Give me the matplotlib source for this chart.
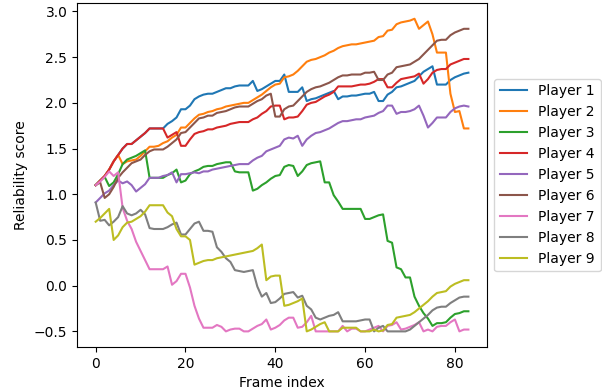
import numpy as np
import matplotlib
matplotlib.use('Agg')
import matplotlib.pyplot as plt

# reliability score per frame (frames 0..83)
player_1 = [1.10, 1.15, 1.20, 1.27, 1.36, 1.43, 1.50, 1.55, 1.55, 1.59,
            1.63, 1.67, 1.72, 1.72, 1.72, 1.72, 1.77, 1.80, 1.84, 1.93,
            1.93, 1.97, 2.04, 2.07, 2.09, 2.10, 2.10, 2.12, 2.14, 2.16,
            2.16, 2.18, 2.19, 2.19, 2.19, 2.24, 2.13, 2.15, 2.18, 2.21,
            2.24, 2.24, 2.31, 2.12, 2.12, 2.12, 2.17, 2.02, 2.04, 2.05,
            2.07, 2.09, 2.11, 2.13, 2.04, 2.07, 2.07, 2.08, 2.08, 2.09,
            2.10, 2.10, 2.12, 2.02, 2.02, 2.09, 2.12, 2.17, 2.18, 2.20,
            2.22, 2.24, 2.29, 2.34, 2.37, 2.40, 2.20, 2.20, 2.20, 2.25,
            2.28, 2.30, 2.32, 2.33]
player_2 = [1.10, 1.15, 1.20, 1.27, 1.36, 1.43, 1.33, 1.36, 1.37, 1.38,
            1.42, 1.47, 1.52, 1.52, 1.53, 1.56, 1.58, 1.62, 1.65, 1.73,
            1.73, 1.78, 1.83, 1.87, 1.88, 1.90, 1.91, 1.93, 1.94, 1.96,
            1.97, 1.98, 1.99, 2.00, 2.00, 2.03, 2.06, 2.09, 2.13, 2.17,
            2.20, 2.21, 2.28, 2.29, 2.31, 2.35, 2.40, 2.45, 2.47, 2.48,
            2.50, 2.52, 2.55, 2.57, 2.60, 2.62, 2.63, 2.64, 2.64, 2.65,
            2.66, 2.67, 2.68, 2.72, 2.73, 2.79, 2.80, 2.86, 2.88, 2.89,
            2.90, 2.92, 2.81, 2.85, 2.89, 2.75, 2.55, 2.55, 2.55, 2.10,
            1.90, 1.91, 1.72, 1.72]
player_3 = [1.10, 1.15, 1.19, 1.09, 1.13, 1.22, 1.33, 1.38, 1.40, 1.42,
            1.45, 1.48, 1.18, 1.18, 1.18, 1.18, 1.21, 1.23, 1.27, 1.13,
            1.15, 1.22, 1.25, 1.27, 1.30, 1.31, 1.31, 1.33, 1.34, 1.35,
            1.35, 1.25, 1.24, 1.24, 1.24, 1.04, 1.06, 1.10, 1.13, 1.17,
            1.20, 1.21, 1.30, 1.32, 1.31, 1.20, 1.25, 1.32, 1.34, 1.35,
            1.36, 1.13, 1.13, 0.99, 0.92, 0.84, 0.84, 0.84, 0.84, 0.84,
            0.73, 0.73, 0.75, 0.77, 0.78, 0.49, 0.47, 0.20, 0.18, 0.09,
            0.09, -0.12, -0.22, -0.30, -0.36, -0.44, -0.41, -0.41, -0.40, -0.35,
            -0.31, -0.30, -0.28, -0.28]
player_4 = [1.10, 1.15, 1.20, 1.27, 1.36, 1.43, 1.50, 1.55, 1.55, 1.59,
            1.63, 1.67, 1.72, 1.72, 1.72, 1.72, 1.62, 1.65, 1.68, 1.53,
            1.53, 1.60, 1.66, 1.68, 1.69, 1.71, 1.71, 1.73, 1.74, 1.75,
            1.77, 1.78, 1.79, 1.79, 1.79, 1.82, 1.84, 1.88, 1.91, 1.96,
            1.97, 1.97, 1.82, 1.84, 1.84, 1.85, 1.91, 1.98, 2.00, 2.01,
            2.04, 2.07, 2.09, 2.12, 2.18, 2.18, 2.18, 2.18, 2.19, 2.20,
            2.20, 2.21, 2.23, 2.26, 2.26, 2.17, 2.17, 2.22, 2.26, 2.27,
            2.28, 2.29, 2.32, 2.21, 2.26, 2.33, 2.36, 2.37, 2.37, 2.42,
            2.44, 2.46, 2.48, 2.48]
player_5 = [0.91, 0.96, 1.01, 1.04, 1.10, 1.15, 1.12, 1.14, 1.10, 1.03,
            1.07, 1.11, 1.18, 1.18, 1.18, 1.20, 1.21, 1.24, 1.13, 1.22,
            1.22, 1.23, 1.24, 1.23, 1.25, 1.25, 1.27, 1.28, 1.29, 1.30,
            1.31, 1.32, 1.33, 1.33, 1.33, 1.37, 1.40, 1.42, 1.47, 1.49,
            1.51, 1.53, 1.60, 1.62, 1.61, 1.64, 1.53, 1.60, 1.64, 1.67,
            1.68, 1.70, 1.72, 1.75, 1.78, 1.80, 1.80, 1.81, 1.82, 1.82,
            1.84, 1.85, 1.86, 1.89, 1.91, 1.97, 1.97, 1.88, 1.90, 1.90,
            1.91, 1.93, 1.97, 1.86, 1.73, 1.78, 1.84, 1.84, 1.84, 1.90,
            1.94, 1.96, 1.97, 1.96]
player_6 = [1.10, 1.13, 0.96, 1.00, 1.08, 1.18, 1.24, 1.29, 1.34, 1.36,
            1.38, 1.43, 1.47, 1.49, 1.49, 1.49, 1.52, 1.56, 1.60, 1.67,
            1.68, 1.73, 1.78, 1.83, 1.84, 1.86, 1.86, 1.89, 1.90, 1.91,
            1.93, 1.95, 1.96, 1.96, 1.96, 1.99, 2.02, 2.04, 2.08, 2.10,
            1.85, 1.85, 1.93, 1.96, 1.97, 2.02, 2.07, 2.12, 2.15, 2.17,
            2.18, 2.20, 2.22, 2.25, 2.28, 2.30, 2.30, 2.31, 2.31, 2.31,
            2.33, 2.33, 2.34, 2.25, 2.25, 2.31, 2.33, 2.39, 2.40, 2.41,
            2.42, 2.45, 2.48, 2.53, 2.58, 2.63, 2.68, 2.69, 2.69, 2.74,
            2.77, 2.79, 2.81, 2.81]
player_7 = [1.10, 1.14, 1.19, 1.25, 1.20, 1.24, 0.85, 0.71, 0.62, 0.48,
            0.38, 0.28, 0.18, 0.18, 0.18, 0.18, 0.21, 0.01, 0.05, 0.13,
            0.13, -0.02, -0.22, -0.36, -0.46, -0.46, -0.46, -0.43, -0.45, -0.50,
            -0.48, -0.47, -0.47, -0.50, -0.50, -0.47, -0.44, -0.42, -0.37, -0.48,
            -0.46, -0.43, -0.38, -0.35, -0.35, -0.46, -0.45, -0.40, -0.33, -0.50,
            -0.50, -0.50, -0.50, -0.50, -0.50, -0.44, -0.50, -0.47, -0.47, -0.50,
            -0.50, -0.48, -0.46, -0.44, -0.50, -0.44, -0.43, -0.40, -0.48, -0.47,
            -0.45, -0.43, -0.40, -0.50, -0.48, -0.50, -0.45, -0.44, -0.44, -0.40,
            -0.37, -0.50, -0.48, -0.48]
player_8 = [0.91, 0.71, 0.72, 0.66, 0.70, 0.75, 0.87, 0.79, 0.77, 0.79,
            0.83, 0.78, 0.63, 0.62, 0.62, 0.62, 0.64, 0.67, 0.69, 0.56,
            0.56, 0.62, 0.68, 0.70, 0.60, 0.60, 0.59, 0.42, 0.37, 0.30,
            0.26, 0.17, 0.16, 0.15, 0.16, 0.17, -0.01, -0.12, -0.08, -0.19,
            -0.18, -0.14, -0.09, -0.08, -0.07, -0.13, -0.11, -0.22, -0.26, -0.35,
            -0.37, -0.35, -0.33, -0.32, -0.29, -0.39, -0.39, -0.39, -0.39, -0.38,
            -0.37, -0.37, -0.50, -0.46, -0.44, -0.50, -0.50, -0.50, -0.50, -0.50,
            -0.48, -0.44, -0.40, -0.36, -0.32, -0.27, -0.24, -0.23, -0.23, -0.19,
            -0.16, -0.13, -0.12, -0.12]
player_9 = [0.70, 0.74, 0.79, 0.84, 0.50, 0.55, 0.64, 0.69, 0.70, 0.73,
            0.76, 0.81, 0.88, 0.88, 0.88, 0.88, 0.80, 0.76, 0.62, 0.54,
            0.54, 0.50, 0.23, 0.25, 0.27, 0.28, 0.28, 0.30, 0.31, 0.32,
            0.33, 0.34, 0.35, 0.36, 0.37, 0.38, 0.41, 0.45, 0.06, 0.10,
            0.11, 0.11, -0.22, -0.21, -0.19, -0.17, -0.14, -0.50, -0.48, -0.45,
            -0.42, -0.40, -0.50, -0.50, -0.50, -0.46, -0.46, -0.46, -0.46, -0.50,
            -0.50, -0.50, -0.48, -0.50, -0.49, -0.43, -0.42, -0.35, -0.34, -0.33,
            -0.32, -0.29, -0.25, -0.21, -0.17, -0.12, -0.08, -0.07, -0.06, -0.01,
            0.02, 0.04, 0.06, 0.06]

series = [player_1, player_2, player_3, player_4, player_5,
          player_6, player_7, player_8, player_9]
labels = ['Player %d' % (i + 1) for i in range(len(series))]

fig = plt.figure(figsize=(6.02, 3.91), dpi=100)
ax = fig.add_axes([0.128, 0.1125, 0.681, 0.8795])

for values, label in zip(series, labels):
    ax.plot(np.arange(len(values)), values, label=label)

ax.set_xlabel('Frame index')
ax.set_ylabel('Reliability score')
ax.legend(loc='center left', bbox_to_anchor=(1, 0.5))

fig.savefig('out.png', dpi=100)
